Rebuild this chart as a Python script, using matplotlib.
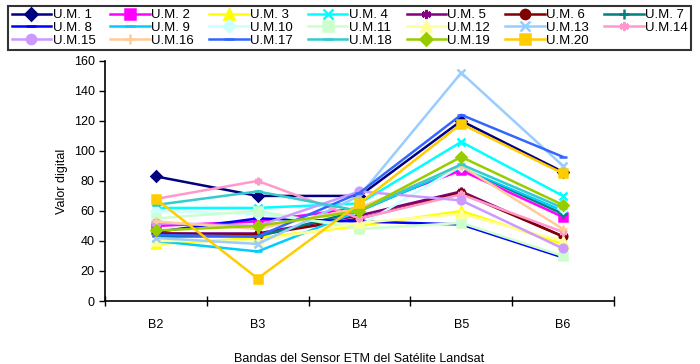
import numpy as np
import matplotlib
matplotlib.use('Agg')
from matplotlib import pyplot as plt

plt.rcParams['font.family'] = ['Liberation Sans', 'DejaVu Sans']

bands = ['B2', 'B3', 'B4', 'B5', 'B6']
labels = ['U.M. 1', 'U.M. 2', 'U.M. 3', 'U.M. 4', 'U.M. 5', 'U.M. 6', 'U.M. 7',
          'U.M. 8', 'U.M. 9', 'U.M.10', 'U.M.11', 'U.M.12', 'U.M.13', 'U.M.14',
          'U.M.15', 'U.M.16', 'U.M.17', 'U.M.18', 'U.M.19', 'U.M.20']

um1 = [83, 70, 70, 120, 86]
um2 = [50, 53, 62, 87, 56]
um3 = [38, 42, 50, 60, 38]
um4 = [62, 62, 65, 106, 70]
um5 = [45, 45, 57, 73, 43]
um6 = [45, 44, 55, 72, 43]
um7 = [43, 43, 60, 89, 58]
um8 = [46, 55, 53, 51, 29]
um9 = [40, 33, 60, 89, 60]
um10 = [60, 58, 50, 90, 62]
um11 = [55, 60, 48, 52, 30]
um12 = [40, 40, 52, 58, 40]
um13 = [42, 38, 70, 152, 90]
um14 = [68, 80, 55, 71, 46]
um15 = [52, 50, 73, 67, 35]
um16 = [53, 48, 62, 90, 48]
um17 = [44, 43, 72, 124, 96]
um18 = [64, 73, 60, 91, 62]
um19 = [47, 50, 60, 96, 64]
um20 = [68, 15, 65, 118, 85]
series = [um1, um2, um3, um4, um5, um6, um7, um8, um9, um10,
          um11, um12, um13, um14, um15, um16, um17, um18, um19, um20]

colors = ['#000080', '#FF00FF', '#FFFF00', '#00FFFF', '#800080', '#800000', '#008080',
          '#0000FF', '#00CCFF', '#CCFFFF', '#CCFFCC', '#FFFF99', '#99CCFF', '#FF99CC',
          '#CC99FF', '#FFCC99', '#3366FF', '#33CCCC', '#99CC00', '#FFCC00']
markers = ['D', 's', '^', 'x', (6, 2, 0), 'o', '+',
           '_', '_', 'D', 's', '^', 'x', (6, 2, 0),
           'o', '+', '_', '_', 'D', 's']

fig = plt.figure(figsize=(7, 3.64), dpi=100)
ax = fig.add_axes([0.15, 0.173, 0.727, 0.66])

handles = []
for s, c, m, lab in zip(series, colors, markers, labels):
    h, = ax.plot(bands, s, color=c, marker=m, lw=1.8, ms=5.5, mew=1.8, label=lab)
    handles.append(h)

ax.set_xlim(-0.5, 4.5)
ax.set_ylim(0, 160)
ax.set_yticks(range(0, 161, 20))
ax.set_xticks(np.arange(-0.5, 4.6, 1), minor=True)
ax.tick_params(axis='x', which='major', length=0, pad=13, labelsize=9)
ax.tick_params(axis='x', which='minor', direction='inout', length=7, width=1)
ax.tick_params(axis='y', direction='out', length=4, width=1, labelsize=9)
ax.spines['top'].set_visible(False)
ax.spines['right'].set_visible(False)
ax.spines['left'].set_linewidth(1.2)
ax.spines['bottom'].set_linewidth(1.2)
ax.set_ylabel('Valor digital', fontsize=9, labelpad=4)
ax.set_xlabel('Bandas del Sensor ETM del Satélite Landsat', fontsize=9, labelpad=16)

# legend fills row by row in the original
order = [i + 7 * r for i in range(7) for r in range(3) if i + 7 * r < 20]
leg = fig.legend([handles[i] for i in order], [labels[i] for i in order],
                 ncol=7, loc='lower left', mode='expand',
                 bbox_to_anchor=(0.012, 0.862, 0.975, 0.13),
                 fontsize=9.5, frameon=True, fancybox=False, edgecolor='black',
                 handlelength=3.0, handletextpad=0.1, columnspacing=0.8,
                 labelspacing=0.05, borderpad=0.25, borderaxespad=0,
                 markerscale=1.2)
leg.get_frame().set_linewidth(1.5)

fig.savefig('out.png', dpi=100)
